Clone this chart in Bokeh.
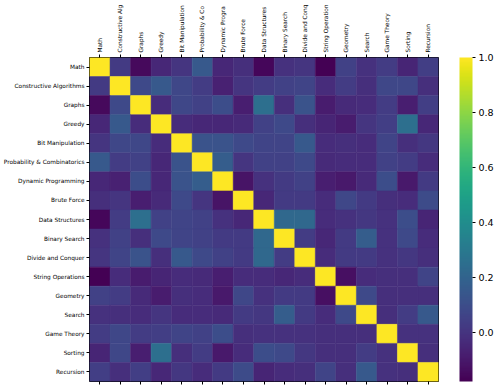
import numpy as np
from bokeh.plotting import figure
from bokeh.models import (LinearColorMapper, ColorBar, FixedTicker, CategoricalAxis,
                          ColumnDataSource, PrintfTickFormatter)
from bokeh.transform import transform
from bokeh.palettes import Viridis256
from bokeh.embed import file_html
from bokeh.resources import INLINE

categories = ["Math", "Constructive Algorithms", "Graphs", "Greedy", "Bit Manipulation",
              "Probability & Combinatorics", "Dynamic Programming", "Brute Force",
              "Data Structures", "Binary Search", "Divide and Conquer", "String Operations",
              "Geometry", "Search", "Game Theory", "Sorting", "Recursion"]

# top tick labels as they appear (cut off by the top edge of the image)
top_labels = ["Math", "Constructive Alg", "Graphs", "Greedy", "Bit Manipulation",
              "Probability & Co", "Dynamic Progra", "Brute Force", "Data Structures",
              "Binary Search", "Divide and Conq", "String Operation", "Geometry", "Search",
              "Game Theory", "Sorting", "Recursion"]

# upper-triangle rows of the correlation matrix (each starts at the diagonal)
math_r = [1.0, 0.02, -0.15, -0.05, 0.0, 0.15, -0.05, -0.02, -0.16, -0.01, 0.0, -0.18, 0.05, -0.01, 0.03, -0.06, 0.04]
constructive_r = [1.0, 0.08, 0.15, 0.07, 0.03, -0.07, 0.0, 0.03, 0.05, 0.06, -0.03, 0.03, -0.02, 0.07, 0.07, -0.02]
graphs_r = [1.0, -0.03, 0.07, 0.05, 0.1, -0.08, 0.25, -0.02, 0.12, -0.09, -0.04, -0.03, 0.03, -0.08, 0.04]
greedy_r = [1.0, -0.03, -0.05, -0.05, -0.04, 0.05, 0.08, -0.02, -0.06, -0.09, 0.0, 0.04, 0.25, -0.05]
bit_r = [1.0, 0.12, 0.12, 0.08, 0.06, 0.06, 0.15, -0.03, -0.02, -0.03, 0.06, -0.02, 0.01]
prob_r = [1.0, 0.17, 0.0, 0.05, 0.05, 0.08, -0.04, -0.03, -0.03, 0.05, 0.03, -0.03]
dp_r = [1.0, -0.12, -0.01, 0.02, 0.05, -0.08, -0.1, -0.04, 0.1, -0.1, 0.02]
brute_r = [1.0, -0.05, 0.02, 0.02, -0.03, 0.07, 0.02, -0.02, -0.03, 0.09]
ds_r = [1.0, 0.22, 0.22, -0.03, -0.01, 0.01, -0.01, 0.1, -0.06]
bs_r = [1.0, 0.03, -0.05, 0.02, 0.17, -0.01, 0.08, -0.03]
dc_r = [1.0, -0.03, 0.02, 0.02, -0.01, 0.01, -0.02]
string_r = [1.0, -0.13, -0.03, -0.02, -0.02, 0.06]
geometry_r = [1.0, 0.08, -0.02, -0.02, -0.02]
search_r = [1.0, -0.02, 0.03, 0.15]
game_r = [1.0, -0.01, -0.01]
sorting_r = [1.0, -0.02]
recursion_r = [1.0]

colorbar_ticks = [0.0, 0.2, 0.4, 0.6, 0.8, 1.0]

upper_rows = [math_r, constructive_r, graphs_r, greedy_r, bit_r, prob_r, dp_r, brute_r,
              ds_r, bs_r, dc_r, string_r, geometry_r, search_r, game_r, sorting_r, recursion_r]

n = len(categories)
M = np.zeros((n, n))
for i, row in enumerate(upper_rows):
    for k, v in enumerate(row):
        j = i + k
        M[i, j] = v
        M[j, i] = v

xs, ys, vals = [], [], []
for i in range(n):
    for j in range(n):
        ys.append(categories[i])
        xs.append(top_labels[j])
        vals.append(M[i, j])
source = ColumnDataSource(dict(x=xs, y=ys, value=vals))

mapper = LinearColorMapper(palette=Viridis256, low=float(M.min()), high=float(M.max()))

p = figure(x_range=top_labels, y_range=list(reversed(categories)),
           frame_width=349, frame_height=324,
           output_backend="svg", toolbar_location=None,
           min_border_left=88, min_border_top=57, min_border_bottom=5, min_border_right=61)
p.rect(x="x", y="y", width=1, height=1, source=source,
       fill_color=transform("value", mapper), line_color=transform("value", mapper), line_width=0.5)

p.grid.visible = False
p.outline_line_color = "black"
p.outline_line_width = 1
p.background_fill_color = "white"

# left axis
p.yaxis.major_label_text_font = "DejaVu Sans"
p.yaxis.major_label_text_font_size = "5.8px"
p.yaxis.major_label_text_color = "black"
p.yaxis.axis_line_color = None
p.yaxis.major_tick_line_color = "black"
p.yaxis.major_tick_out = 3
p.yaxis.major_tick_in = 0
p.yaxis.major_label_standoff = 2

# bottom axis: ticks only
p.xaxis.major_label_text_font_size = "0px"
p.xaxis.major_label_text_color = None
p.xaxis.major_label_standoff = 0
p.xaxis.axis_line_color = None
p.xaxis.major_tick_line_color = "black"
p.xaxis.major_tick_out = 3
p.xaxis.major_tick_in = 0

# top axis with vertical labels
top = CategoricalAxis(major_label_text_font="DejaVu Sans", major_label_text_font_size="5.8px",
                      major_label_text_color="black", major_label_orientation="vertical",
                      major_label_standoff=2, axis_line_color=None,
                      major_tick_line_color="black", major_tick_out=3, major_tick_in=0)
p.add_layout(top, "above")

cb = ColorBar(color_mapper=mapper, width=13, height=324, location=(21, 0),
              ticker=FixedTicker(ticks=colorbar_ticks),
              formatter=PrintfTickFormatter(format="%.1f"),
              major_label_text_font="DejaVu Sans", major_label_text_font_size="9.5px",
              major_label_text_color="black",
              major_tick_in=0, major_tick_out=3, major_tick_line_color="black",
              label_standoff=3, bar_line_color=None, border_line_color=None,
              background_fill_color=None, padding=0, margin=0)
p.add_layout(cb, "right")

open("out.html", "w").write(file_html(p, INLINE))
